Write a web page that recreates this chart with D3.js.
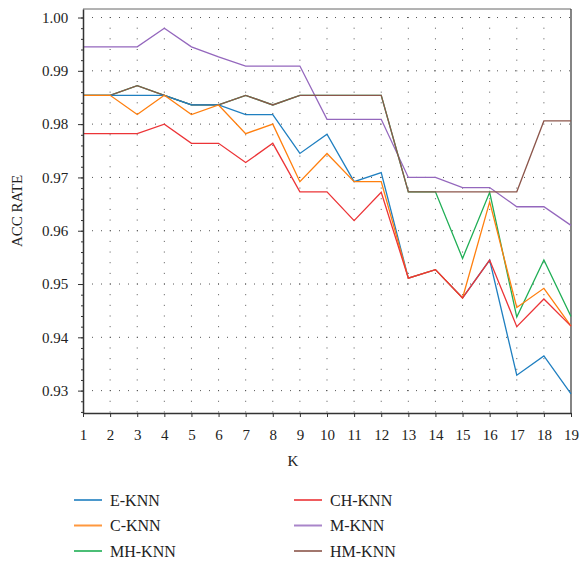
<!DOCTYPE html>
<html>
<head>
<meta charset="utf-8">
<script src="https://cdn.jsdelivr.net/npm/d3@7"></script>
<style>
  body { margin: 0; background: #fff; }
  text { font-family: "Liberation Serif", "DejaVu Serif", serif; fill: #222; }
</style>
</head>
<body>
<div id="chart"></div>
<script>
// K values on the x axis
var kValues = [1,2,3,4,5,6,7,8,9,10,11,12,13,14,15,16,17,18,19];

// accuracy per method
var eKnn  = [0.9854,0.9854,0.9854,0.9854,0.9836,0.9836,0.9818,0.9818,0.9745,0.9781,0.9692,0.9709,0.9511,0.9527,0.9474,0.9545,0.9329,0.9365,0.9294];
var cKnn  = [0.9854,0.9854,0.9818,0.9854,0.9818,0.9836,0.9782,0.9800,0.9692,0.9745,0.9692,0.9692,0.9511,0.9527,0.9474,0.9654,0.9456,0.9492,0.9421];
var mhKnn = [0.9854,0.9854,0.9872,0.9854,0.9836,0.9836,0.9854,0.9836,0.9854,0.9854,0.9854,0.9854,0.9673,0.9673,0.9548,0.9672,0.9438,0.9545,0.9439];
var chKnn = [0.9782,0.9782,0.9782,0.9800,0.9764,0.9764,0.9728,0.9764,0.9673,0.9673,0.9619,0.9672,0.9511,0.9527,0.9474,0.9545,0.9420,0.9472,0.9421];
var mKnn  = [0.9945,0.9945,0.9945,0.9980,0.9945,0.9926,0.9909,0.9909,0.9909,0.9809,0.9809,0.9809,0.9700,0.9700,0.9681,0.9681,0.9645,0.9645,0.9610];
var hmKnn = [0.9854,0.9854,0.9872,0.9854,0.9836,0.9836,0.9854,0.9836,0.9854,0.9854,0.9854,0.9854,0.9673,0.9673,0.9673,0.9673,0.9673,0.9806,0.9806];

var yTicks = [0.93,0.94,0.95,0.96,0.97,0.98,0.99,1.00];
var yMinor = d3.range(0.926, 1.0005, 0.002);

var series = [
  {label: "E-KNN",  values: eKnn,  color: "#1f7fc0"},
  {label: "C-KNN",  values: cKnn,  color: "#ff7f0e"},
  {label: "MH-KNN", values: mhKnn, color: "#1fae55"},
  {label: "CH-KNN", values: chKnn, color: "#ec3437"},
  {label: "M-KNN",  values: mKnn,  color: "#9467bd"},
  {label: "HM-KNN", values: hmKnn, color: "#8c564b"}
];
// draw order (red drawn over orange/blue like the picture, brown over green)
var drawOrder = ["M-KNN","MH-KNN","HM-KNN","E-KNN","C-KNN","CH-KNN"];

var width = 581, height = 561;
var margin = {left: 83, top: 9, right: 10, bottom: 148};
var innerW = width - margin.left - margin.right;
var innerH = height - margin.top - margin.bottom;

var svg = d3.select("#chart").append("svg")
  .attr("width", width).attr("height", height);
var g = svg.append("g")
  .attr("transform", "translate(" + margin.left + "," + margin.top + ")");

var x = d3.scaleLinear().domain([1, 19]).range([0, innerW]);
var y = d3.scaleLinear().domain([0.9258, 1.0016]).range([innerH, 0]);

// dotted grid: horizontal at major ticks
g.append("g").selectAll("line")
  .data(yTicks)
  .enter().append("line")
  .attr("x1", 0).attr("x2", innerW)
  .attr("y1", function(d){ return y(d); })
  .attr("y2", function(d){ return y(d); })
  .attr("stroke", "#555")
  .attr("stroke-width", 1)
  .attr("stroke-dasharray", "1,8");

// vertical dotted grid: a dot at each minor step
var dots = [];
kValues.slice(1, -1).forEach(function(k){
  yMinor.forEach(function(v){ dots.push([k, v]); });
});
g.append("g").selectAll("rect")
  .data(dots)
  .enter().append("rect")
  .attr("x", function(d){ return x(d[0]) - 0.5; })
  .attr("y", function(d){ return y(d[1]) - 0.5; })
  .attr("width", 1).attr("height", 1)
  .attr("fill", "#555");

// frame top/right
g.append("line").attr("x1", 0).attr("x2", innerW).attr("y1", 0).attr("y2", 0)
  .attr("stroke", "#666").attr("stroke-width", 1);
g.append("line").attr("x1", innerW).attr("x2", innerW).attr("y1", 0).attr("y2", innerH)
  .attr("stroke", "#333").attr("stroke-width", 1.2);

// lines
var line = d3.line()
  .x(function(d, i){ return x(kValues[i]); })
  .y(function(d){ return y(d); });

drawOrder.forEach(function(name){
  var s = series.find(function(d){ return d.label === name; });
  g.append("path")
    .datum(s.values)
    .attr("d", line)
    .attr("fill", "none")
    .attr("stroke", s.color)
    .attr("stroke-width", 1.3);
});

// axes
var xAxis = g.append("g")
  .attr("transform", "translate(0," + innerH + ")")
  .call(d3.axisBottom(x).tickValues(kValues).tickFormat(d3.format("d")).tickSize(4).tickSizeOuter(0));
xAxis.selectAll("text").attr("font-size", "15px").attr("dy", "1.35em");

var yAxis = g.append("g")
  .call(d3.axisLeft(y).tickValues(yTicks).tickFormat(d3.format(".2f")).tickSize(5).tickSizeOuter(0));
yAxis.selectAll("text").attr("font-size", "15px").attr("dx", "-0.45em");

g.append("g")
  .call(d3.axisLeft(y).tickValues(yMinor).tickFormat("").tickSize(2).tickSizeOuter(0))
  .select(".domain").remove();

svg.selectAll(".domain").attr("stroke", "#333").attr("stroke-width", 1.5);
svg.selectAll(".tick line").attr("stroke", "#333");

// axis titles
svg.append("text")
  .attr("x", 293).attr("y", 466)
  .attr("text-anchor", "middle")
  .attr("font-size", "15px")
  .text("K");

svg.append("text")
  .attr("transform", "translate(22," + (margin.top + innerH / 2) + ") rotate(-90)")
  .attr("text-anchor", "middle")
  .attr("font-size", "15px")
  .text("ACC RATE");

// legend, two columns of three
var legend = svg.append("g").selectAll("g")
  .data(series)
  .enter().append("g")
  .attr("transform", function(d, i){
    var col = Math.floor(i / 3), row = i % 3;
    return "translate(" + (74 + col * 220) + "," + (500 + row * 25.5) + ")";
  });
legend.append("line")
  .attr("x1", 0).attr("x2", 28)
  .attr("stroke", function(d){ return d.color; })
  .attr("stroke-width", 2)
  .attr("opacity", 0.8);
legend.append("text")
  .attr("x", 36).attr("dy", "0.35em")
  .attr("font-size", "16px")
  .text(function(d){ return d.label; });
</script>
</body>
</html>
